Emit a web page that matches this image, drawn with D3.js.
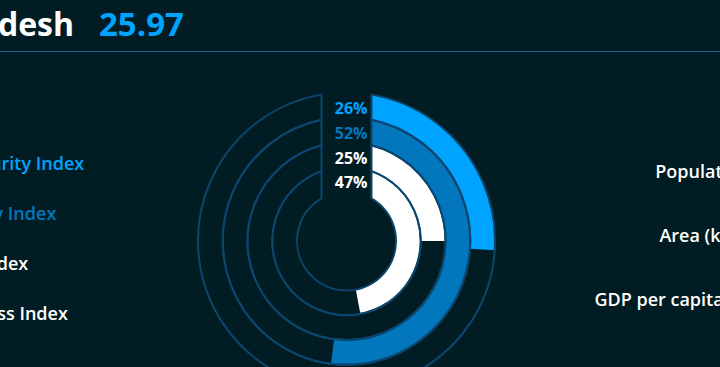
<!DOCTYPE html>
<html>
<head>
<meta charset="utf-8">
<script src="https://cdn.jsdelivr.net/npm/d3@7"></script>
<style>
    html, body { margin: 0; padding: 0; background: #011d23; overflow: hidden; }
    svg { display: block; font-family: "Open Sans", sans-serif; }
</style>
</head>
<body>
<svg id="chart"></svg>
<script>
const countryName = "Bangladesh";
const countryScore = 25.97;
const indexNames = ["Gas Security Index", "Economy Index", "Peace Index", "Happiness Index"];
const indexValues = [26, 52, 25, 47];
const statNames = ["Population", "Area (km²)", "GDP per capita ($)"];

const width = 720;
const height = 367;
const trackColor = "#0c466e";
const ringColors = ["#00a3ff", "#0277bd", "#ffffff", "#ffffff"];

const svg = d3.select("#chart")
    .attr("width", width)
    .attr("height", height);

// header
svg.append("text")
    .attr("x", 74)
    .attr("y", 36)
    .attr("text-anchor", "end")
    .attr("fill", "#ffffff")
    .attr("font-size", 32)
    .attr("font-weight", 700)
    .text(countryName);

svg.append("text")
    .attr("x", 99)
    .attr("y", 36)
    .attr("fill", "#00a3ff")
    .attr("font-size", 33)
    .attr("font-weight", 700)
    .text(countryScore.toFixed(2));

svg.append("line")
    .attr("x1", 0)
    .attr("x2", width)
    .attr("y1", 51.5)
    .attr("y2", 51.5)
    .attr("stroke", "#1b6a9a")
    .attr("stroke-width", 1);

// radial bars
const cx = 346.5;
const cy = 241;
const gap = 25;

const angle = d3.scaleLinear()
    .domain([0, 100])
    .range([0, 2 * Math.PI]);

const radius = d3.scaleBand()
    .domain(indexNames)
    .range([148.5, 49.5])
    .padding(0);

const g = svg.append("g")
    .attr("transform", `translate(${cx}, ${cy})`);

// clip away the vertical gap above the centre, where the labels sit
const clip = svg.append("defs").append("clipPath")
    .attr("id", "gap-clip");
clip.append("rect").attr("x", gap).attr("y", -200).attr("width", 400).attr("height", 400);
clip.append("rect").attr("x", -400).attr("y", -200).attr("width", 400 - gap).attr("height", 400);
clip.append("rect").attr("x", -400).attr("y", 0).attr("width", 800).attr("height", 200);

const barArc = d3.arc()
    .innerRadius(function (d) { return radius(d.name); })
    .outerRadius(function (d) { return radius(d.name) + radius.bandwidth(); })
    .startAngle(0)
    .endAngle(function (d) { return angle(d.value); });

const trackArc = d3.arc()
    .innerRadius(function (d) { return radius(d.name); })
    .outerRadius(function (d) { return radius(d.name) + radius.bandwidth(); })
    .startAngle(0)
    .endAngle(2 * Math.PI - 1e-4)
    .padRadius(100)
    .padAngle(2 * Math.asin(gap / 100));

const rings = indexNames.map(function (name, i) {
    return { name: name, value: indexValues[i], color: ringColors[i] };
});

g.append("g")
    .attr("clip-path", "url(#gap-clip)")
    .selectAll("path")
    .data(rings)
    .join("path")
    .attr("d", barArc)
    .attr("fill", function (d) { return d.color; });

g.append("g")
    .selectAll("path")
    .data(rings)
    .join("path")
    .attr("d", trackArc)
    .attr("fill", "none")
    .attr("stroke", trackColor)
    .attr("stroke-width", 2)
    .attr("stroke-linejoin", "round");

g.append("g")
    .selectAll("text")
    .data(rings)
    .join("text")
    .attr("x", 21)
    .attr("y", function (d) { return -(radius(d.name) + radius.bandwidth() / 2) + 5; })
    .attr("text-anchor", "end")
    .attr("dominant-baseline", "middle")
    .attr("fill", function (d) { return d.color; })
    .attr("font-size", 16)
    .attr("font-weight", 700)
    .text(function (d) { return Math.round(d.value) + "%"; });

// left legend
svg.append("g")
    .selectAll("text")
    .data(rings)
    .join("text")
    .attr("x", -76)
    .attr("y", function (d, i) { return 170 + i * 50; })
    .attr("fill", function (d) { return d.color; })
    .attr("font-size", 18)
    .attr("font-weight", 600)
    .text(function (d) { return d.name; });

// right stats
svg.append("g")
    .selectAll("text")
    .data(statNames)
    .join("text")
    .attr("x", 750)
    .attr("y", function (d, i) { return 178 + i * 64; })
    .attr("text-anchor", "end")
    .attr("fill", "#ffffff")
    .attr("font-size", 18)
    .attr("font-weight", 600)
    .text(function (d) { return d; });
</script>
</body>
</html>
